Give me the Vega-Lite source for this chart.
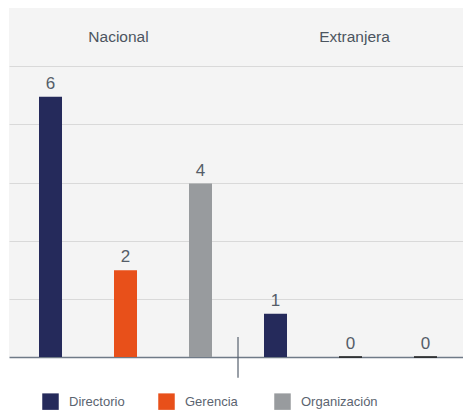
{
  "$schema": "https://vega.github.io/schema/vega-lite/v6.json",
  "width": 454,
  "height": 349,
  "autosize": {"type": "none"},
  "padding": {"left": 9, "top": 8, "right": 0, "bottom": 53},
  "background": "white",
  "config": {
    "view": {"fill": "#f4f4f4", "stroke": null},
    "font": "Liberation Sans",
    "text": {"font": "Liberation Sans"}
  },
  "datasets": {
    "bars": [
      {"grupo": "Nacional", "cargo": "Directorio", "valor": 6},
      {"grupo": "Nacional", "cargo": "Gerencia", "valor": 2},
      {"grupo": "Nacional", "cargo": "Organización", "valor": 4},
      {"grupo": "Extranjera", "cargo": "Directorio", "valor": 1},
      {"grupo": "Extranjera", "cargo": "Gerencia", "valor": 0},
      {"grupo": "Extranjera", "cargo": "Organización", "valor": 0}
    ]
  },
  "layer": [
    {
      "data": {"name": "bars"},
      "mark": {"type": "bar", "strokeWidth": 1},
      "encoding": {
        "x": {
          "field": "grupo", "type": "nominal", "sort": ["Nacional", "Extranjera"],
          "scale": {"domain": ["Nacional", "Extranjera"], "paddingInner": 0, "paddingOuter": 0.0089, "align": 1},
          "axis": {"title": null, "labels": false, "ticks": false, "domain": true, "domainColor": "#6f7a87", "domainWidth": 1.5, "grid": false}
        },
        "xOffset": {
          "field": "cargo", "type": "nominal",
          "scale": {"domain": ["Directorio", "Gerencia", "Organización"], "paddingInner": 0.6933, "paddingOuter": 0.3467}
        },
        "y": {
          "field": "valor", "type": "quantitative",
          "scale": {"domain": [0, 8.047], "nice": false, "zero": true},
          "axis": {"title": null, "labels": false, "ticks": false, "domain": false, "grid": true, "gridColor": "#d9d9d9", "gridWidth": 1.2, "values": [1.341, 2.682, 4.023, 5.364, 6.706]}
        },
        "color": {
          "field": "cargo", "type": "nominal",
          "scale": {"domain": ["Directorio", "Gerencia", "Organización"], "range": ["#252a5b", "#e8501a", "#989b9e"]},
          "legend": {
            "title": null, "orient": "none", "direction": "horizontal",
            "legendX": 33, "legendY": 385, "padding": 0,
            "symbolType": "square", "symbolSize": 272, "symbolStrokeWidth": 0,
            "labelFontSize": 13, "labelColor": "#5b6470", "labelFont": "Liberation Sans",
            "labelOffset": 10, "gridAlign": "all", "columnPadding": 12
          }
        },
        "stroke": {
          "condition": {"test": "datum.valor === 0", "value": "#1b1b1b"},
          "value": null
        }
      }
    },
    {
      "data": {"name": "bars"},
      "mark": {"type": "text", "fontSize": 17, "color": "#555d68", "baseline": "alphabetic", "dy": -8},
      "encoding": {
        "x": {"field": "grupo", "type": "nominal"},
        "xOffset": {"field": "cargo", "type": "nominal"},
        "y": {"field": "valor", "type": "quantitative"},
        "text": {"field": "valor", "type": "quantitative"}
      }
    },
    {
      "data": {"values": [{"grupo": "Nacional", "titulo": "Nacional", "altura": 7.38}]},
      "mark": {"type": "text", "fontSize": 15.5, "color": "#4c5560", "baseline": "middle", "dx": -7},
      "encoding": {
        "x": {"field": "grupo", "type": "nominal"},
        "y": {"field": "altura", "type": "quantitative"},
        "text": {"field": "titulo"}
      }
    },
    {
      "data": {"values": [{"grupo": "Extranjera", "titulo": "Extranjera", "altura": 7.38}]},
      "mark": {"type": "text", "fontSize": 15.5, "color": "#4c5560", "baseline": "middle", "dx": 4},
      "encoding": {
        "x": {"field": "grupo", "type": "nominal"},
        "y": {"field": "altura", "type": "quantitative"},
        "text": {"field": "titulo"}
      }
    },
    {
      "data": {"values": [{"grupo": "Nacional", "arriba": 0.46, "abajo": -0.48}]},
      "mark": {"type": "rule", "color": "#56606d", "strokeWidth": 1.2},
      "encoding": {
        "x": {"field": "grupo", "type": "nominal", "bandPosition": 1},
        "y": {"field": "arriba", "type": "quantitative"},
        "y2": {"field": "abajo"}
      }
    }
  ]
}
